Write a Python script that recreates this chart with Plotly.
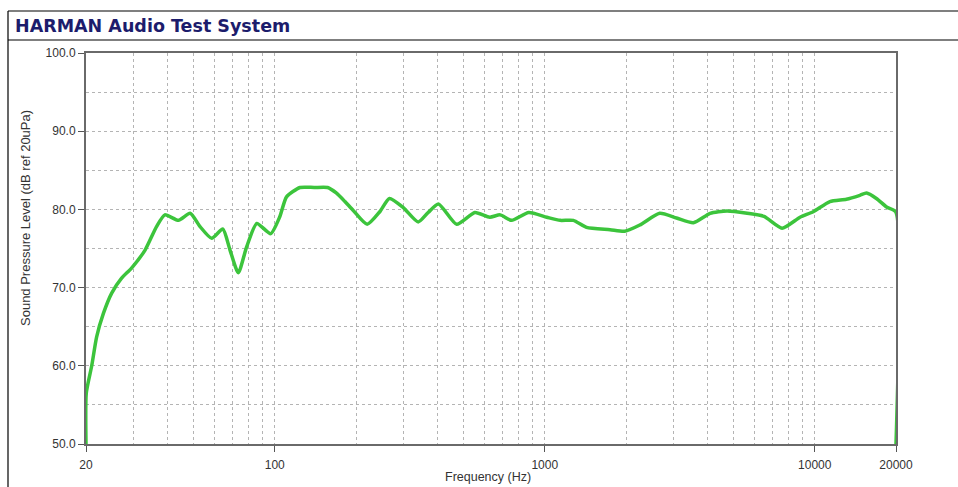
import plotly.graph_objects as go

freq_hz = [20, 20.05, 21.0, 21.9, 23.2, 24.9, 27.1, 29.5, 33.1, 36.5, 39.2, 44.0, 48.6, 52.9,
           58.4, 64.2, 68.3, 73.3, 78.7, 85.8, 96.6, 104.5, 110.6, 124, 140, 157, 169, 182,
           195, 220, 245, 266, 300, 340, 370, 404, 472, 551, 626, 684, 754, 872, 1018, 1141,
           1277, 1428, 1746, 1978, 2250, 2666, 3077, 3553, 4098, 4733, 5620, 6490, 7570,
           8820, 9870, 11380, 13100, 14700, 15560, 16920, 18460, 19950, 20000]
spl_db = [50.0, 56.5, 60.0, 63.7, 66.7, 69.3, 71.2, 72.5, 74.8, 77.8, 79.3, 78.6, 79.5, 77.8,
          76.3, 77.5, 74.8, 71.9, 75.2, 78.2, 76.9, 79.1, 81.6, 82.8, 82.8, 82.8, 82.1, 81.0,
          79.9, 78.1, 79.7, 81.4, 80.2, 78.4, 79.6, 80.7, 78.1, 79.6, 79.0, 79.3, 78.6, 79.6,
          79.0, 78.6, 78.6, 77.7, 77.4, 77.2, 78.0, 79.5, 78.9, 78.3, 79.5, 79.8, 79.5, 79.1,
          77.6, 79.0, 79.7, 81.0, 81.3, 81.8, 82.1, 81.4, 80.3, 79.7, 50.0]

x_tick_vals = [20, 100, 1000, 10000, 20000]
x_tick_text = ["20", "100", "1000", "10000", "20000"]
x_grid_vals = [30, 40, 50, 60, 70, 80, 90, 200, 300, 400, 500, 600, 700, 800, 900,
               2000, 3000, 4000, 5000, 6000, 7000, 8000, 9000]
y_tick_vals = [50, 60, 70, 80, 90, 100]

title_text = "HARMAN Audio Test System"
x_title = "Frequency (Hz)"
y_title = "Sound Pressure Level (dB ref 20uPa)"

W, H = 958, 487
L, R, T, B = 86, 62, 53, 43
pw, ph = W - L - R, H - T - B

def px_x(p):
    return (p - L) / pw

def px_y(p):
    return (H - B - p) / ph

FONT = "Liberation Sans, Arial, sans-serif"

fig = go.Figure()
fig.add_trace(go.Scatter(
    x=freq_hz, y=spl_db, mode="lines",
    line=dict(color="#3cc43c", width=3.5, shape="spline", smoothing=0.6),
    hoverinfo="skip", showlegend=False,
))

grid_color = "#b4b4b4"
fig.update_layout(
    width=W, height=H,
    margin=dict(l=L, r=R, t=T, b=B),
    paper_bgcolor="white", plot_bgcolor="white",
    font=dict(family=FONT, color="#333333", size=12),
    xaxis=dict(
        type="log", range=[1.30103, 4.30103],
        tickvals=x_tick_vals, ticktext=x_tick_text,
        ticks="outside", ticklen=6, tickcolor="#555555", tickwidth=1,
        ticklabelstandoff=3,
        showgrid=True, gridcolor=grid_color, griddash="dot", gridwidth=1,
        minor=dict(tickvals=x_grid_vals, showgrid=True, gridcolor=grid_color,
                   griddash="dot", gridwidth=1, ticklen=0),
        showline=True, linecolor="#6a6a6a", linewidth=2, mirror=True,
        zeroline=False,
        tickfont=dict(size=12, color="#333333"),
    ),
    yaxis=dict(
        range=[50, 100],
        tickvals=y_tick_vals, tickformat=".1f",
        ticks="outside", ticklen=6, tickcolor="#555555", tickwidth=1,
        showgrid=True, gridcolor=grid_color, griddash="dot", gridwidth=1,
        minor=dict(dtick=5, showgrid=True, gridcolor=grid_color,
                   griddash="dot", gridwidth=1, ticklen=0),
        showline=True, linecolor="#6a6a6a", linewidth=2, mirror=True,
        zeroline=False,
        tickfont=dict(size=12, color="#333333"),
    ),
    shapes=[
        dict(type="line", xref="paper", yref="paper", x0=px_x(8), x1=px_x(960),
             y0=px_y(11), y1=px_y(11), line=dict(color="black", width=1.2)),
        dict(type="line", xref="paper", yref="paper", x0=px_x(8), x1=px_x(960),
             y0=px_y(40), y1=px_y(40), line=dict(color="black", width=1.2)),
        dict(type="line", xref="paper", yref="paper", x0=px_x(8), x1=px_x(8),
             y0=px_y(11), y1=px_y(490), line=dict(color="black", width=1.2)),
    ],
    annotations=[
        dict(text="<b>" + title_text + "</b>", xref="paper", yref="paper",
             x=px_x(13), y=px_y(26), xanchor="left", yanchor="middle",
             showarrow=False,
             font=dict(size=17.5, color="#1c1c6c", family="DejaVu Sans, sans-serif")),
        dict(text=x_title, xref="paper", yref="paper",
             x=px_x(488), y=px_y(477), xanchor="center", yanchor="middle",
             showarrow=False, font=dict(size=12.5, color="#333333", family=FONT)),
        dict(text=y_title, xref="paper", yref="paper", textangle=-90,
             x=px_x(25), y=px_y(218), xanchor="center", yanchor="middle",
             showarrow=False, font=dict(size=13, color="#333333", family=FONT)),
    ],
)

fig.write_html("out.html")
